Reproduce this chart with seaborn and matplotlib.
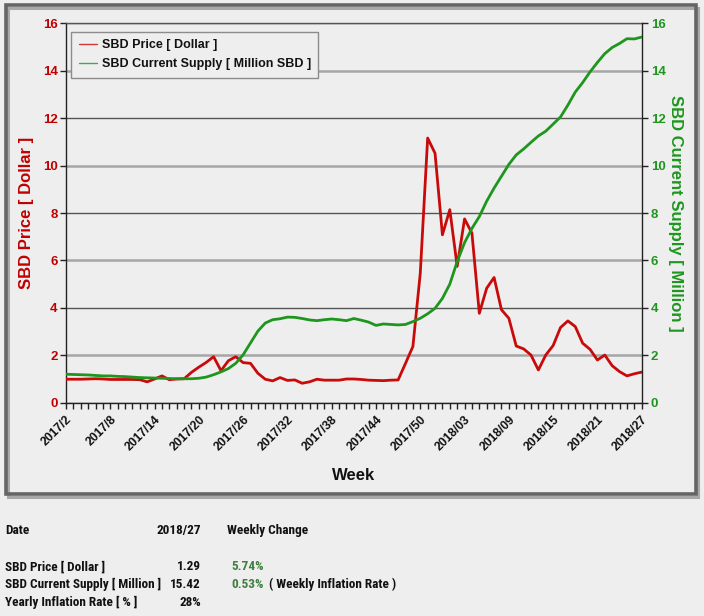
import numpy as np
import pandas as pd
import matplotlib
matplotlib.use("Agg")
import matplotlib.pyplot as plt
import seaborn as sns
from matplotlib import font_manager
from matplotlib.font_manager import FontProperties
from matplotlib.patches import Rectangle
from matplotlib.lines import Line2D
from matplotlib.ticker import MultipleLocator

# ---------------- data ----------------
weeks = [
    "2017/2", "2017/3", "2017/4", "2017/5", "2017/6", "2017/7", "2017/8", "2017/9", "2017/10",
    "2017/11", "2017/12", "2017/13", "2017/14", "2017/15", "2017/16", "2017/17", "2017/18",
    "2017/19", "2017/20", "2017/21", "2017/22", "2017/23", "2017/24", "2017/25", "2017/26",
    "2017/27", "2017/28", "2017/29", "2017/30", "2017/31", "2017/32", "2017/33", "2017/34",
    "2017/35", "2017/36", "2017/37", "2017/38", "2017/39", "2017/40", "2017/41", "2017/42",
    "2017/43", "2017/44", "2017/45", "2017/46", "2017/47", "2017/48", "2017/49", "2017/50",
    "2017/51", "2017/52", "2018/00", "2018/01", "2018/02", "2018/03", "2018/04", "2018/05",
    "2018/06", "2018/07", "2018/08", "2018/09", "2018/10", "2018/11", "2018/12", "2018/13",
    "2018/14", "2018/15", "2018/16", "2018/17", "2018/18", "2018/19", "2018/20", "2018/21",
    "2018/22", "2018/23", "2018/24", "2018/25", "2018/26", "2018/27",
]
price = [
    0.99, 0.99, 0.99, 1.00, 1.01, 1.00, 0.98, 0.98, 0.98, 0.98,
    0.97, 0.88, 1.00, 1.13, 0.97, 1.00, 1.01, 1.28, 1.50, 1.70,
    1.94, 1.35, 1.77, 1.94, 1.69, 1.66, 1.24, 0.99, 0.92, 1.06,
    0.94, 0.96, 0.82, 0.88, 0.99, 0.95, 0.95, 0.95, 1.00, 1.00,
    0.98, 0.95, 0.94, 0.93, 0.95, 0.96, 1.66, 2.37, 5.46, 11.16,
    10.52, 7.08, 8.14, 5.75, 7.75, 7.15, 3.77, 4.83, 5.28, 3.92,
    3.56, 2.39, 2.27, 2.01, 1.38, 2.01, 2.41, 3.17, 3.45, 3.21,
    2.51, 2.25, 1.80, 2.01, 1.56, 1.31, 1.13, 1.22, 1.29,
]
supply = [
    1.20, 1.19, 1.18, 1.17, 1.15, 1.13, 1.13, 1.11, 1.10, 1.08,
    1.06, 1.05, 1.04, 1.03, 1.02, 1.01, 1.01, 1.01, 1.03, 1.08,
    1.18, 1.30, 1.44, 1.66, 2.02, 2.52, 3.02, 3.36, 3.50, 3.54,
    3.61, 3.60, 3.55, 3.49, 3.46, 3.50, 3.53, 3.50, 3.46, 3.55,
    3.48, 3.40, 3.26, 3.32, 3.30, 3.28, 3.30, 3.42, 3.56, 3.75,
    3.98, 4.40, 5.00, 5.95, 6.75, 7.35, 7.85, 8.50, 9.05, 9.55,
    10.05, 10.45, 10.70, 10.98, 11.25, 11.45, 11.75, 12.05, 12.55, 13.10,
    13.50, 13.95, 14.35, 14.72, 14.98, 15.15, 15.35, 15.34, 15.42,
]
series_names = ["SBD Price [ Dollar ]", "SBD Current Supply [ Million SBD ]"]

summary_date = "2018/27"
summary_rows = ["SBD Price [ Dollar ]", "SBD Current Supply [ Million ]", "Yearly Inflation Rate [ % ]"]
summary_values = ["1.29", "15.42", "28%"]
summary_changes = ["5.74%", "0.53%", ""]
summary_notes = ["", "( Weekly Inflation Rate )", ""]

# ---------------- style ----------------
W, H = 704, 616
BG = "#eeeeee"
RED = "#c80a0a"
RED_T = "#c00000"
GREEN = "#1e961e"
GREEN_T = "#1e961e"
GREEN_S = "#3f7f3f"

sns.set_theme(style="white")
ttf = font_manager.fontManager.ttflist
names = {f.name for f in ttf}
base = "Liberation Sans" if "Liberation Sans" in names else "DejaVu Sans"
plt.rcParams["font.family"] = [base, "DejaVu Sans"]


def is_bold(f):
    w = f.weight
    return (isinstance(w, (int, float)) and w >= 600) or str(w).lower() in ("bold", "700", "heavy", "black", "semibold", "600") or "bold" in f.fname.lower()


def pick_condensed_bold():
    prefs = ["liberation sans narrow", "arial narrow", "roboto condensed", "open sans condensed",
             "noto sans condensed", "dejavu sans condensed", "dejavusanscondensed"]
    cands = []
    for f in ttf:
        low = (f.name + " " + f.fname).lower()
        narrowish = ("narrow" in low or "condensed" in low or
                     str(f.stretch).lower() in ("condensed", "semi-condensed", "extra-condensed", "ultra-condensed"))
        if narrowish and is_bold(f) and "italic" not in low and "oblique" not in low:
            rank = len(prefs)
            for i, p in enumerate(prefs):
                if p in low.replace("-", " ") or p in low:
                    rank = i
                    break
            cands.append((rank, f.fname))
    if cands:
        cands.sort()
        return FontProperties(fname=cands[0][1])
    return FontProperties(family=base, weight="bold")


df = pd.DataFrame({"idx": np.arange(len(weeks)), "week": weeks,
                   "price": price, "supply": supply})

fig = plt.figure(figsize=(W / 100, H / 100), dpi=100, facecolor=BG)


def px(x, y):
    return x / W, 1 - y / H


# outer framed box with shadow
fig.patches.append(Rectangle(px(8, 497), 690 / W, 489 / H, transform=fig.transFigure,
                             fill=False, ec="#a8a8a8", lw=2.2, zorder=0))
fig.patches.append(Rectangle(px(6, 494), 690 / W, 489 / H, transform=fig.transFigure,
                             fill=False, ec="#656565", lw=2.6, zorder=1))

L, R, T, B = 66, 641.7, 23.3, 402.7
ax = fig.add_axes([L / W, 1 - B / H, (R - L) / W, (B - T) / H])
ax.set_facecolor(BG)
ax2 = ax.twinx()

sns.lineplot(data=df, x="idx", y="price", ax=ax, color=RED, lw=2.0, legend=False, zorder=3)
sns.lineplot(data=df, x="idx", y="supply", ax=ax2, color=GREEN, lw=2.0, legend=False, zorder=3)

n = len(weeks)
for a in (ax, ax2):
    a.set_xlim(0, n - 1)
    a.set_ylim(0, 16)
    a.set_yticks(np.arange(0, 17, 2))

ax.set_xticks(np.arange(0, n, 6))
ax.set_xticklabels(weeks[::6], rotation=45, ha="right", rotation_mode="anchor",
                   fontsize=8.7, fontweight="bold", color="#111111")
ax.xaxis.set_minor_locator(MultipleLocator(1))
ax.tick_params(axis="x", which="both", direction="out", length=4, width=1,
               color="#222222", bottom=True, pad=4)

ax.tick_params(axis="y", direction="out", length=4, width=1, color="#222222",
               left=True, labelcolor=RED_T, labelsize=9.5, pad=2)
ax2.tick_params(axis="y", direction="out", length=4, width=1, color="#222222",
                right=True, labelcolor=GREEN_T, labelsize=9.5, pad=2.5)
for lbl in ax.get_yticklabels() + ax2.get_yticklabels():
    lbl.set_fontweight("bold")

# gridlines, alternating shades
ax.grid(True, axis="y")
ax.grid(False, axis="x")
for val, gl in zip(np.arange(0, 17, 2), ax.get_ygridlines()):
    if val % 4 == 0:
        gl.set_color("#555555"); gl.set_linewidth(1.0)
    else:
        gl.set_color("#a6a6a6"); gl.set_linewidth(1.8)
ax.set_axisbelow(True)

for s in ["left", "bottom"]:
    ax.spines[s].set_color("#222222"); ax.spines[s].set_linewidth(1.0)
ax.spines["top"].set_color("#555555"); ax.spines["top"].set_linewidth(1.0)
ax.spines["right"].set_visible(False)
for s in ["left", "bottom", "top"]:
    ax2.spines[s].set_visible(False)
ax2.spines["right"].set_color("#222222"); ax2.spines["right"].set_linewidth(1.0)

ax.set_xlabel("Week", fontsize=12, fontweight="bold", color="#111111")
ax.xaxis.set_label_coords(0.5, (B - 476) / (B - T))
ax.xaxis.label.set_va("center")
ax.set_ylabel("SBD Price [ Dollar ]", fontsize=12, fontweight="bold", color=RED_T)
ax.yaxis.set_label_coords((27 - L) / (R - L), 0.5)
ax.yaxis.label.set_va("center")
ax2.set_ylabel("SBD Current Supply [ Million ]", fontsize=12, fontweight="bold",
               color=GREEN_T, rotation=270)
ax2.yaxis.set_label_coords((675 - L) / (R - L), 0.5)
ax2.yaxis.label.set_va("center")

handles = [Line2D([], [], color=RED, lw=1.0, alpha=0.8), Line2D([], [], color=GREEN, lw=1.0, alpha=0.8)]
leg = ax2.legend(handles, series_names, loc="upper left",
                 bbox_to_anchor=((71 - L) / (R - L), (B - 31.7) / (B - T)),
                 borderaxespad=0, frameon=True, fancybox=False, framealpha=1,
                 facecolor=BG, edgecolor="#8c8c8c",
                 prop={"size": 9, "weight": "bold"},
                 handlelength=1.5, handletextpad=0.35, borderpad=0.6, labelspacing=0.55)
leg.get_frame().set_linewidth(1.0)
for t in leg.get_texts():
    t.set_color("#111111")

# summary table below the chart (bold, condensed look)
tprop = pick_condensed_bold()
renderer = fig.canvas.get_renderer()
probe = fig.text(0, 0, summary_rows[1], fontproperties=tprop)
probe.set_fontsize(10)
wpx = probe.get_window_extent(renderer).width
probe.remove()
tsize = min(10.0, 10 * 156.0 / wpx)
tprop.set_size(tsize)

fig.text(*px(5, 530.7), "Date", ha="left", va="center", color="#111111", fontproperties=tprop)
fig.text(*px(201, 530.7), summary_date, ha="right", va="center", color="#111111", fontproperties=tprop)
fig.text(*px(226.7, 530.7), "Weekly Change", ha="left", va="center", color="#111111", fontproperties=tprop)
row_y = [566.7, 584.5, 602.5]
for yv, name, val, chg, note in zip(row_y, summary_rows, summary_values,
                                    summary_changes, summary_notes):
    fig.text(*px(5, yv), name, ha="left", va="center", color="#111111", fontproperties=tprop)
    fig.text(*px(201, yv), val, ha="right", va="center", color="#111111", fontproperties=tprop)
    if chg:
        fig.text(*px(231, yv), chg, ha="left", va="center", color=GREEN_S, fontproperties=tprop)
    if note:
        fig.text(*px(269.3, yv), note, ha="left", va="center", color="#111111", fontproperties=tprop)

fig.savefig("out.png", dpi=100, facecolor=BG)
